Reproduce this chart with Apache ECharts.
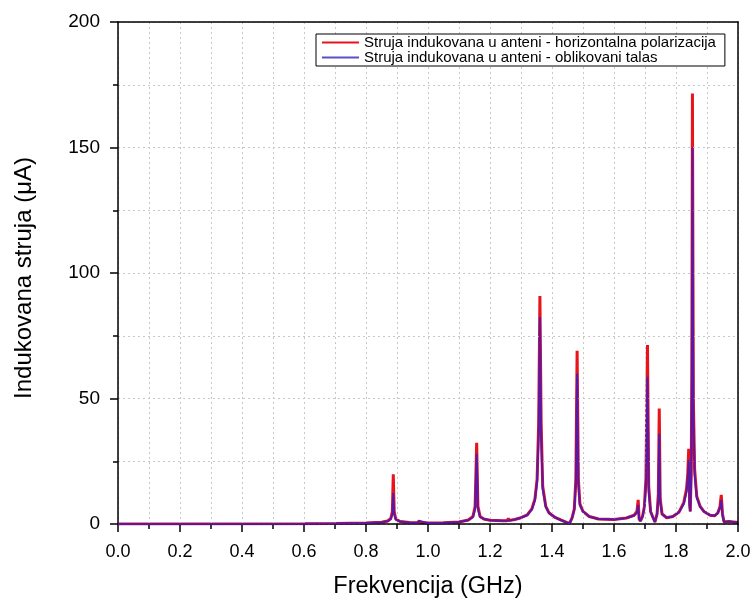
<!DOCTYPE html>
<html>
<head>
<meta charset="utf-8">
<script src="https://cdn.jsdelivr.net/npm/echarts@6/dist/echarts.min.js"></script>
<style>
html,body{margin:0;padding:0;background:#fff;}
#chart{width:755px;height:601px;}
</style>
</head>
<body>
<div id="chart"></div>
<script>
// Frequency (GHz)
var freq = [0.00,0.60,0.70,0.80,0.85,0.87,0.88,0.885,0.888,0.891,0.896,0.91,0.94,0.965,0.972,0.976,1.00,1.05,1.10,1.13,1.145,1.152,1.157,1.161,1.168,1.18,1.20,1.24,1.255,1.259,1.262,1.28,1.30,1.32,1.335,1.345,1.352,1.357,1.361,1.365,1.37,1.38,1.39,1.41,1.43,1.447,1.457,1.465,1.472,1.477,1.481,1.485,1.49,1.50,1.52,1.55,1.60,1.64,1.665,1.674,1.678,1.681,1.685,1.692,1.698,1.703,1.708,1.712,1.718,1.726,1.732,1.736,1.739,1.743,1.746,1.749,1.755,1.77,1.79,1.81,1.825,1.834,1.838,1.841,1.844,1.846,1.849,1.851,1.853,1.856,1.86,1.867,1.878,1.89,1.91,1.925,1.935,1.942,1.946,1.95,1.955,1.97,2.00];
// Current, horizontal polarization (uA)
var redVals = [0,0.05,0.15,0.35,0.7,1.2,2.2,5,19.8,5,2.0,1.0,0.6,0.5,1.3,0.5,0.4,0.5,0.8,1.6,3.0,7,32.4,7,3.0,2.0,1.5,1.3,1.3,2.2,1.4,1.8,2.5,3.6,6,10,18,40,90.8,40,15,7,4.5,2.6,1.5,0.6,0.3,2.5,6,18,69,18,8,5,3.0,2.0,1.8,2.4,3.5,5,9.6,2,1.2,3,7,18,71.3,15,5,2.5,0.8,0.2,4,12,46,10,4,2.5,3.0,4.8,8.5,14,20,30,8,5,20,60,171.5,50,22,11,7,5,3.5,3.3,4.5,7,11.6,4,0.8,1.0,0.6];
// Current, shaped wave (uA)
var blueVals = [0,0.05,0.15,0.35,0.7,1.1,2.0,4,12.3,4,1.8,1.0,0.6,0.5,1.2,0.5,0.4,0.5,0.8,1.5,2.8,6,28,6,2.8,2.0,1.5,1.3,1.3,2.0,1.4,1.8,2.5,3.5,5.8,9.5,17,36,82.5,36,14,6.8,4.5,2.6,1.5,0.6,0.3,2.5,5.8,16,60,16,7.5,5,3.0,2.0,1.8,2.4,3.4,4.5,7.6,2,1.2,3,6.5,15,58.7,13,5,2.5,0.8,0.2,4,10,36,9,4,2.5,3.0,4.8,8,13,18,25.5,7,5,18,52,150,45,20,10.5,6.8,5,3.5,3.3,4.3,6.5,9.5,3.5,0.8,1.0,0.6];
var seriesNames = ['Struja indukovana u anteni - horizontalna polarizacija','Struja indukovana u anteni - oblikovani talas'];
var xTitle = 'Frekvencija (GHz)';
var yTitle = 'Indukovana struja (\u03bcA)';

function pairs(xs, ys){ return xs.map(function(x,i){ return [x, ys[i]]; }); }

var chart = echarts.init(document.getElementById('chart'), null, {renderer:'canvas'});
var font = 'Liberation Sans, Arial, sans-serif';
var dotted = {show:true, lineStyle:{color:'#c8c8c8', type:[2,3], width:1}};
var blackLine = {show:true, onZero:false, lineStyle:{color:'#000', width:1.5}};
var tick = {show:true, inside:false, length:8, lineStyle:{color:'#000', width:1.5}};
var mtick = {show:true, splitNumber:2, length:5, lineStyle:{color:'#000', width:1.5}};
chart.setOption({
  animation:false,
  backgroundColor:'#fff',
  grid:{left:118, right:17, top:22, bottom:77, containLabel:false, outerBoundsMode:'none'},
  legend:{
    orient:'vertical', left:316, top:34, width:410,
    padding:[1,9,1,6], itemGap:0, itemWidth:37, itemHeight:2,
    borderColor:'#000', borderWidth:1, backgroundColor:'#fff',
    icon:'rect',
    textStyle:{fontFamily:font, fontSize:15, color:'#000', lineHeight:13},
    data:[{name:seriesNames[0]},{name:seriesNames[1]}]
  },
  xAxis:[{
    type:'value', min:0, max:2, interval:0.2, position:'bottom',
    name:xTitle, nameLocation:'middle', nameGap:51,
    nameTextStyle:{fontFamily:font, fontSize:23.5, color:'#000'},
    axisLine:blackLine, axisTick:tick, minorTick:mtick,
    axisLabel:{fontFamily:font, fontSize:18, color:'#000', margin:19, formatter:function(v){return v.toFixed(1);}},
    splitLine:dotted, minorSplitLine:dotted, z:3
  },{
    type:'value', min:0, max:2, interval:0.2, position:'top',
    axisLine:blackLine, axisTick:{show:false}, axisLabel:{show:false}, splitLine:{show:false}, z:4
  }],
  yAxis:[{
    type:'value', min:0, max:200, interval:50, position:'left',
    name:yTitle, nameLocation:'middle', nameGap:82, nameRotate:90,
    nameTextStyle:{fontFamily:font, fontSize:24, color:'#000', padding:[0,0,0,-10]},
    axisLine:blackLine, axisTick:tick, minorTick:mtick,
    axisLabel:{fontFamily:font, fontSize:19, color:'#000', margin:18},
    splitLine:dotted, minorSplitLine:dotted, z:3
  },{
    type:'value', min:0, max:200, interval:50, position:'right',
    axisLine:blackLine, axisTick:{show:false}, axisLabel:{show:false}, splitLine:{show:false}, z:4
  }],
  series:[
    {name:seriesNames[0], type:'line', data:pairs(freq, redVals), showSymbol:false, symbol:'none',
     lineStyle:{color:'#e8141c', width:3}, itemStyle:{color:'#e8141c'}, z:2},
    {name:seriesNames[1], type:'line', data:pairs(freq, blueVals), showSymbol:false, symbol:'none',
     lineStyle:{color:'#5a18a8', width:2}, itemStyle:{color:'#5a50c8'}, z:3}
  ]
});
</script>
</body>
</html>
